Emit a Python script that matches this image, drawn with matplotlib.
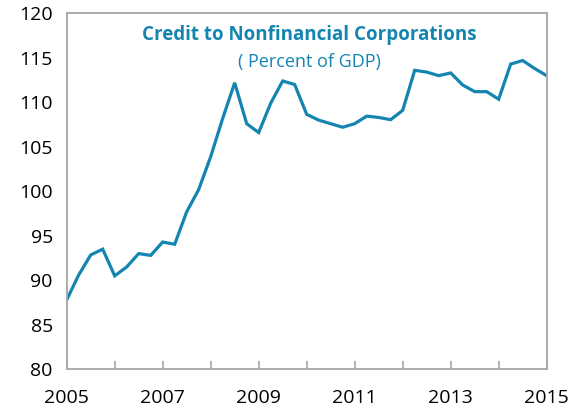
import matplotlib

matplotlib.use("Agg")
import matplotlib.pyplot as plt
import numpy as np
from matplotlib.ticker import FixedLocator, MultipleLocator

plt.rcParams["font.family"] = ["Open Sans", "DejaVu Sans"]

# quarterly observations, 2005Q1 .. 2015Q1
start_year = 2005
credit_pct_gdp = [
    87.8, 90.6, 92.85, 93.5,
    90.5, 91.5, 93.0, 92.8,
    94.3, 94.05, 97.7, 100.2,
    103.9, 108.2, 112.2, 107.6,
    106.6, 109.9, 112.4, 112.0,
    108.65, 108.0, 107.6, 107.2,
    107.6, 108.45, 108.3, 108.05,
    109.1, 113.6, 113.4, 113.0,
    113.3, 111.95, 111.2, 111.2,
    110.35, 114.3, 114.7, 113.8,
    113.0,
]
year_labels = [2005, 2007, 2009, 2011, 2013, 2015]
y_ticks = [80, 85, 90, 95, 100, 105, 110, 115, 120]

title = "Credit to Nonfinancial Corporations"
subtitle = "( Percent of GDP)"

blue = "#1485B0"
grey = "#A6A6A6"

x = start_year + np.arange(len(credit_pct_gdp)) / 4

fig = plt.figure(figsize=(5.76, 4.11), dpi=100)
ax = fig.add_axes([0.1158, 0.1015, 0.8333, 0.866])
ax.plot(x, credit_pct_gdp, color=blue, lw=2.3, solid_joinstyle="miter")

ax.set_xlim(2005, 2015)
ax.set_ylim(80, 120)
ax.xaxis.set_major_locator(FixedLocator(year_labels))
ax.xaxis.set_minor_locator(MultipleLocator(1))
ax.set_yticks(y_ticks)

for side in ax.spines.values():
    side.set_color(grey)
    side.set_linewidth(1.3)

ax.tick_params(axis="x", which="both", direction="in", length=6, width=1.2,
               color=grey, labelsize=14, pad=14)
ax.tick_params(axis="y", length=0, labelsize=14, pad=10)

ax.text(0.505, 0.94, title, transform=ax.transAxes, ha="center", va="center",
        color=blue, fontsize=13.5, fontweight="bold")
ax.text(0.505, 0.863, subtitle, transform=ax.transAxes, ha="center", va="center",
        color=blue, fontsize=13)

fig.savefig("out.png", dpi=100)
